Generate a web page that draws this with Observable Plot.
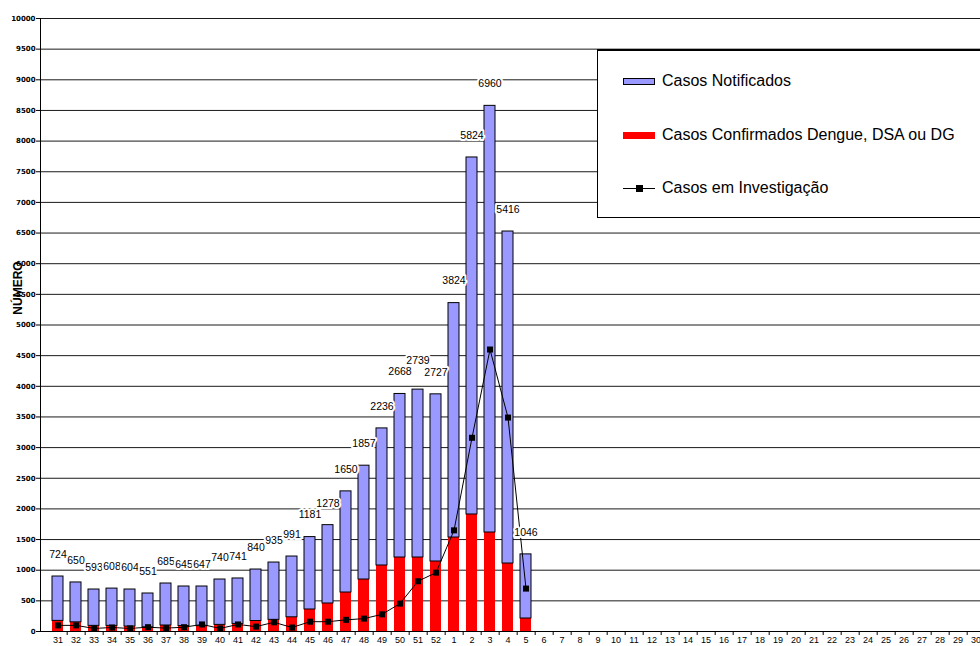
<!DOCTYPE html>
<html>
<head>
<meta charset="utf-8">
<script src="https://cdn.jsdelivr.net/npm/d3@7"></script>
<script src="https://cdn.jsdelivr.net/npm/@observablehq/plot@0.6"></script>
<style>
  html, body { margin: 0; padding: 0; background: #fff; overflow: hidden; }
  #wrap { position: relative; width: 980px; height: 646px; overflow: hidden; font-family: "Liberation Sans", Arial, sans-serif; }
  #chart svg { display: block; overflow: hidden; }
  #ylab { position: absolute; left: 18px; top: 288px; transform: translate(-50%, -50%) rotate(-90deg); font-weight: bold; font-size: 12px; white-space: nowrap; color: #000; }
  #legend { position: absolute; left: 597px; top: 49px; width: 420px; height: 166px; background: #fff; border: 1px solid #000; border-top: 2px solid #000; }
  .li { position: absolute; left: 25px; height: 20px; display: flex; align-items: center; font-size: 16px; color: #000; white-space: nowrap; }
  .sw { width: 32px; height: 7px; margin-right: 7px; box-sizing: border-box; position: relative; }
</style>
</head>
<body>
<div id="wrap">
  <div id="chart"></div>
  <div id="ylab">NÚMERO</div>
  <div id="legend"></div>
</div>
<script>
// Semanas epidemiológicas (eixo X)
const weeks = ["31","32","33","34","35","36","37","38","39","40","41","42","43","44","45","46","47","48","49","50","51","52",
               "1","2","3","4","5","6","7","8","9","10","11","12","13","14","15","16","17","18","19","20","21","22","23","24","25","26","27","28","29","30"];
// Casos Notificados (segmento azul, valores dos rótulos)
const notificados = [724,650,593,608,604,551,685,645,647,740,741,840,935,991,1181,1278,1650,1857,2236,2668,2739,2727,3824,5824,6960,5416,1046];
// Casos Confirmados Dengue, DSA ou DG (segmento vermelho)
const confirmados = [173,150,92,92,81,69,98,89,87,108,124,171,190,232,359,457,636,848,1077,1207,1207,1142,1533,1909,1615,1109,212];
// Casos em Investigação (linha)
const investigacao = [100,100,50,65,50,70,55,70,115,50,115,80,150,65,160,160,190,210,280,455,820,960,1650,3160,4600,3490,700];
// Marcas do eixo Y
const yTicks = d3.range(0, 10001, 500);

const legendItems = ["Casos Notificados", "Casos Confirmados Dengue, DSA ou DG", "Casos em Investigação"];

const W = 980, H = 646;
const M = { left: 40, right: 0, top: 18, bottom: 15 };
const xRange = [40, 994.2];
const step = (xRange[1] - xRange[0]) / weeks.length;
const labelFont = 10.5;
const labelGap = 22;

const rows = notificados.map((n, i) => ({
  week: weeks[i], notif: n, conf: confirmados[i], total: n + confirmados[i], inv: investigacao[i]
}));

// Simple collision avoidance for value labels: lift a label above its left neighbour when they collide
const yPix = d3.scaleLinear().domain([0, 10000]).range([H - M.bottom, M.top]);
let prev = null;
rows.forEach((r, i) => {
  const w = String(r.notif).length * labelFont * 0.56;
  let py = yPix(r.total) - labelGap;
  if (prev) {
    const hOverlap = (w + prev.w) / 2 > step;
    if (hOverlap && Math.abs(py - prev.py) < labelFont + 0.5) py = prev.py - (labelFont + 0.5);
  }
  r.labelY = yPix.invert(py + labelGap);
  prev = { w, py };
});

const chart = Plot.plot({
  width: W,
  height: H,
  marginLeft: M.left,
  marginRight: M.right,
  marginTop: M.top,
  marginBottom: M.bottom,
  style: { fontFamily: "'Liberation Sans', Arial, sans-serif", background: "#fff" },
  x: { type: "band", domain: weeks, range: xRange, paddingInner: 0.37, paddingOuter: 0.185, axis: null },
  y: { domain: [0, 10000], axis: null },
  marks: [
    Plot.ruleY(yTicks.filter(d => d > 0), { stroke: "#1a1a1a", strokeWidth: 1 }),
    Plot.barY(rows, { x: "week", y1: 0, y2: "conf", fill: "#ff0000" }),
    Plot.barY(rows, { x: "week", y1: "conf", y2: "total", fill: "#9999ff", stroke: "#000", strokeWidth: 1 }),
    Plot.line(rows, { x: "week", y: "inv", stroke: "#000", strokeWidth: 1 }),
    Plot.dot(rows, { x: "week", y: "inv", symbol: "square", r: 3.4, fill: "#000" }),
    Plot.text(rows, { x: "week", y: "labelY", text: d => String(d.notif), dy: -labelGap, fontSize: labelFont, fill: "#000", stroke: "#fff", strokeWidth: 4 }),
    Plot.ruleY([0], { stroke: "#000", strokeWidth: 1 }),
    Plot.frame({ anchor: "left", stroke: "#000", strokeWidth: 1 }),
    Plot.axisY(yTicks, { tickSize: 4, tickPadding: 1, fontSize: 7, fontWeight: "bold", fontFamily: "'DejaVu Sans', sans-serif", tickFormat: d => String(d), label: null }),
    Plot.axisX(weeks, { tickSize: 4, tickFormat: () => "", dx: step / 2, label: null }),
    Plot.axisX(weeks, { tickSize: 0, tickPadding: 5, fontSize: 9, label: null })
  ]
});
document.getElementById("chart").appendChild(chart);

// Legend
const legend = document.getElementById("legend");
const tops = [20, 74, 127];
legendItems.forEach((t, i) => {
  const item = document.createElement("div");
  item.className = "li";
  item.style.top = tops[i] + "px";
  const sw = document.createElement("div");
  sw.className = "sw";
  if (i === 0) { sw.style.background = "#9999ff"; sw.style.border = "1px solid #000"; }
  if (i === 1) { sw.style.background = "#ff0000"; }
  if (i === 2) {
    sw.innerHTML = '<div style="position:absolute;left:0;right:0;top:3px;height:1px;background:#000"></div>' +
                   '<div style="position:absolute;left:13px;top:0;width:7px;height:7px;background:#000"></div>';
  }
  item.appendChild(sw);
  const span = document.createElement("span");
  span.textContent = t;
  item.appendChild(span);
  legend.appendChild(item);
});
</script>
</body>
</html>
